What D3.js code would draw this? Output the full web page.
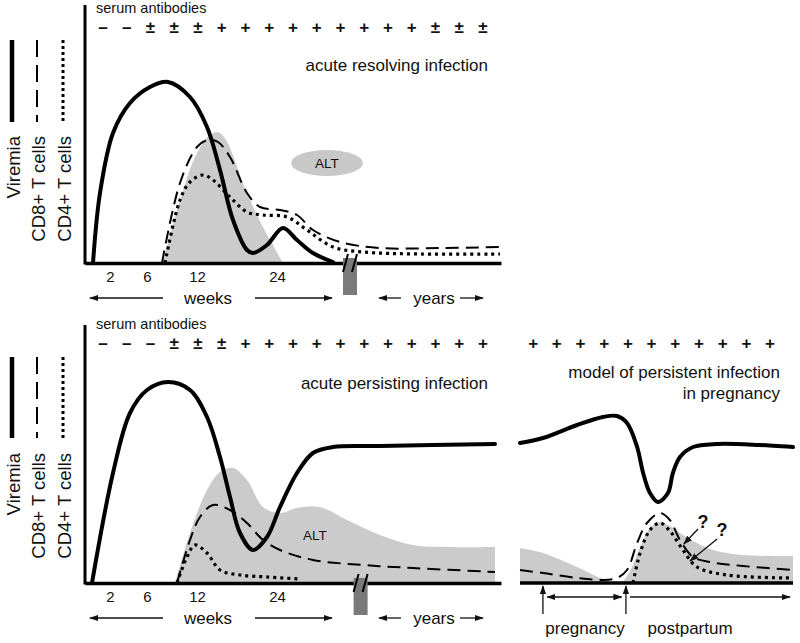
<!DOCTYPE html>
<html><head><meta charset="utf-8">
<script src="https://cdn.jsdelivr.net/npm/d3@7"></script>
<style>
body{margin:0;background:#fff}
text{font-family:"Liberation Sans",Arial,Helvetica,sans-serif;fill:#111}
</style>
</head><body>
<svg id="c" width="800" height="643"></svg>
<script>
// ---------------- DATA ----------------
const seriesNames = ["Viremia", "CD8+ T cells", "CD4+ T cells"];
const signsResolving = ["–","–","±","±","±","+","+","+","+","+","+","+","+","+","±","±","±"];
const signsPersisting = ["–","–","–","±","±","±","+","+","+","+","+","+","+","+","+","+","+"];
const signsPregnancy = ["+","+","+","+","+","+","+","+","+","+","+"];
const weekTicks = [6.25, 15.5, 28, 48];
const weekLabels = ["2", "6", "12", "24"];

// acute resolving infection (x: time units, y: relative level 0-100)
const viremiaResolving = [[2,0],[3.75,28],[7,52],[11.25,64],[16.25,70.4],[20.75,72.4],[26.25,66.4],[30.5,54.4],[33.75,37.2],[37,17.2],[40.5,5.2],[42,4],[45.5,7.2],[49.5,14],[53,9.2],[57,4],[62,0.4]];
const cd8Resolving = [[19.25,0],[23.75,32],[28,46.4],[30.75,49.2],[33.25,48.4],[36.25,42.4],[40.5,28],[43.75,22.4],[48.75,21.2],[53,19.2],[57,13.2],[63.75,8.4],[73.75,6],[88.75,6],[103.75,6.4]];
const cd4Resolving = [[20,0],[23.75,25.2],[26.25,32.4],[29.5,35.2],[32,33.2],[36.25,26.4],[40.5,20.4],[44.5,19.2],[50.5,18.4],[55.5,13.2],[62,6.4],[69.5,4.4],[83.75,3.6],[103.75,3.6]];
const altResolving = [[19.5,0],[23.75,25.2],[28,44],[31.25,51.2],[33.25,52.4],[35.25,49.2],[40.5,28],[44.5,14.4],[49.5,0]];

// acute persisting infection
const viremiaPersisting = [[1.75,0],[7,44],[11.25,68],[15.5,77.2],[20.75,80.4],[26.25,77.2],[30.5,66.4],[33.75,50.4],[36.25,34.4],[38.75,20],[42,13.2],[45.5,18.4],[48.75,30.4],[53,44],[57,52],[62,54.4],[73.75,54.8],[102.5,55.6]];
const cd8Persisting = [[23,0],[26.25,17.2],[28.75,26.4],[32,31.2],[36.25,29.2],[40.5,24],[44.5,17.2],[48.75,13.2],[57,9.2],[69.5,7.2],[82,6],[102.5,4.4]];
const cd4Persisting = [[23,0],[25.5,10.4],[27.5,15.2],[30.5,12],[33.75,5.2],[38.75,3.2],[45.5,2.4],[53.75,1.6]];
const altPersisting = [[22.5,0],[26.25,20],[30.5,37.2],[33.75,44.4],[37,46],[40.5,41.2],[44.5,30.4],[48.75,28],[53,30],[58.75,30.4],[65.5,25.2],[73.75,19.2],[82,15.2],[91.25,14.4],[102.5,14.4]];

// model of persistent infection in pregnancy
const viremiaPregnancy = [[0,56],[8.4,58],[20.9,63.2],[30.4,66.4],[35.5,66.8],[39.2,64],[42.9,54.4],[45.1,44],[47.6,36],[50.5,32.4],[54.2,36],[56,44],[58.6,50.4],[63.4,54.4],[72.2,55.6],[87.9,55.2],[100,54.4]];
const cd8Pregnancy = [[0,5.2],[8.4,4],[20.9,2],[30.4,1.2],[35.5,2],[39.2,5.2],[42.9,16],[46.5,24],[51.3,28],[54.9,25.2],[58.6,17.2],[63.4,10.4],[69.6,8.4],[81.7,6.8],[100,5.2]];
const cd4Pregnancy = [[41.4,0],[44,12],[47.6,21.2],[51.3,24],[55.2,20.4],[59.7,13.2],[64.8,6.4],[75.8,3.2],[100,2]];
const altPregnancy = [[0,14],[8.4,12],[20.9,6.4],[30.4,1.6],[36.6,0],[40.3,4.8],[44,14.4],[47.6,22],[51.3,24.4],[54.9,22.8],[58.6,20],[64.1,16.4],[70.7,13.2],[81.7,11.2],[100,10.8]];

// ---------------- LAYOUT ----------------
const svg = d3.select("#c");
const FONT = '"Liberation Sans",Arial,Helvetica,sans-serif';
const defs = svg.append("defs");
defs.append("marker").attr("id","ah").attr("viewBox","0 0 10 10").attr("refX",9).attr("refY",5)
  .attr("markerWidth",7).attr("markerHeight",7).attr("orient","auto-start-reverse")
  .append("path").attr("d","M0,1.5 L10,5 L0,8.5 Z").attr("fill","#111");

const panels = [
  {base:263, top:5, x0:85, x1:501, sub:"serum antibodies", subY:13, signY:33, signs:signsResolving,
   title:"acute resolving infection", titleY:71, brk:66.25,
   alt:altResolving, cd8:cd8Resolving, cd4:cd4Resolving, vir:viremiaResolving,
   altEllipse:[60.5,40], legendTop:40, legendBot:122, legendText:136},
  {base:583, top:325, x0:85, x1:501, sub:"serum antibodies", subY:329, signY:349, signs:signsPersisting,
   title:"acute persisting infection", titleY:389, brk:68.9,
   alt:altPersisting, cd8:cd8Persisting, cd4:cd4Persisting, vir:viremiaPersisting,
   altLabel:[57.5,19.2], legendTop:357, legendBot:438, legendText:453}
];

const styles = {
  vir:{w:4, dash:null, cap:"round"},
  cd8:{w:2, dash:"13,7", cap:"butt"},
  cd4:{w:3.2, dash:"3,4", cap:"butt"}
};

function drawCurves(g, x, y, p) {
  const area = d3.area().x(d=>x(d[0])).y0(y(0)).y1(d=>y(d[1])).curve(d3.curveCatmullRom.alpha(0.5));
  const line = d3.line().x(d=>x(d[0])).y(d=>y(d[1])).curve(d3.curveCatmullRom.alpha(0.5));
  g.append("path").attr("d", area(p.alt)).attr("fill","#cbcbcb");
  ["cd8","cd4","vir"].forEach(k=>{
    if(!p[k]) return;
    g.append("path").attr("d", line(p[k])).attr("fill","none").attr("stroke","#000")
      .attr("stroke-width", styles[k].w).attr("stroke-dasharray", styles[k].dash)
      .attr("stroke-linecap", styles[k].cap);
  });
}

function drawSigns(xs, yPos, signs, r0, r1) {
  const sp = d3.scalePoint().domain(d3.range(signs.length)).range([r0, r1]);
  svg.append("g").selectAll("text").data(signs).join("text")
    .attr("x",(d,i)=>sp(i)).attr("y",yPos).attr("text-anchor","middle")
    .style("font-size","17px").style("font-weight","bold").text(d=>d);
}

function drawLegend(p) {
  const xs = [12, 37, 63];
  ["vir","cd8","cd4"].forEach((k,i)=>{
    svg.append("line").attr("x1",xs[i]).attr("x2",xs[i]).attr("y1",p.legendTop).attr("y2",p.legendBot)
      .attr("stroke","#000").attr("stroke-width", k==="vir"?4.5:(k==="cd8"?2:3))
      .attr("stroke-dasharray", k==="vir"?null:(k==="cd8"?"17,8":"3,3"));
    svg.append("text").attr("transform",`translate(${xs[i]+8},${p.legendText}) rotate(-90)`)
      .attr("text-anchor","end").style("font-size","18.5px").text(seriesNames[i]);
  });
}

function drawTimeAxis(x, base, brk) {
  const axis = d3.axisBottom(x).tickValues(weekTicks).tickFormat((d,i)=>weekLabels[i]).tickSize(0).tickPadding(8);
  const ga = svg.append("g").attr("transform",`translate(0,${base})`).call(axis);
  ga.select(".domain").attr("stroke","#000").attr("stroke-width",3.5);
  ga.selectAll("text").style("font-size","15px").style("font-family",FONT).attr("fill","#111");
  // break box
  const bx = x(brk);
  svg.append("rect").attr("x",bx-7).attr("y",base-5).attr("width",14).attr("height",37).attr("fill","#7a7a7a");
  [-4.5, 4.5].forEach(o=>{
    svg.append("line").attr("x1",bx+o-2.5).attr("y1",base+9).attr("x2",bx+o+2.5).attr("y2",base-9)
      .attr("stroke","#000").attr("stroke-width",2);
  });
  // weeks / years labels with arrows
  const ly = base + 35;
  svg.append("text").attr("x",x(30.75)).attr("y",ly+6).attr("text-anchor","middle").style("font-size","17px").text("weeks");
  arrow(x(19.5), ly, x(1.25), ly);
  arrow(x(42.5), ly, x(61.75), ly);
  svg.append("text").attr("x",x(87.25)).attr("y",ly+6).attr("text-anchor","middle").style("font-size","17px").text("years");
  arrow(x(79), ly, x(73.5), ly);
  arrow(x(93.75), ly, x(99.5), ly);
}

function arrow(xa, ya, xb, yb, both) {
  const l = svg.append("line").attr("x1",xa).attr("y1",ya).attr("x2",xb).attr("y2",yb)
    .attr("stroke","#111").attr("stroke-width",1.3).attr("marker-end","url(#ah)");
  if (both) l.attr("marker-start","url(#ah)");
}

panels.forEach(p=>{
  const x = d3.scaleLinear().domain([0,104]).range([p.x0, p.x1]);
  const y = d3.scaleLinear().domain([0,100]).range([p.base, p.base-250]);
  const g = svg.append("g");
  drawCurves(g, x, y, p);
  if (p.altEllipse) {
    svg.append("ellipse").attr("cx",x(p.altEllipse[0])).attr("cy",y(p.altEllipse[1])).attr("rx",36).attr("ry",13).attr("fill","#c8c8c8");
    svg.append("text").attr("x",x(p.altEllipse[0])).attr("y",y(p.altEllipse[1])+5).attr("text-anchor","middle").style("font-size","13.5px").attr("fill","#333").text("ALT");
  }
  if (p.altLabel) {
    svg.append("text").attr("x",x(p.altLabel[0])).attr("y",y(p.altLabel[1])+5).attr("text-anchor","middle").style("font-size","13.5px").attr("fill","#333").text("ALT");
  }
  // y axis
  svg.append("line").attr("x1",p.x0).attr("x2",p.x0).attr("y1",p.top).attr("y2",p.base+1.5).attr("stroke","#000").attr("stroke-width",3);
  drawTimeAxis(x, p.base, p.brk);
  svg.append("text").attr("x",p.x0+11).attr("y",p.subY).style("font-size","14.5px").text(p.sub);
  drawSigns(x, p.signY, p.signs, x(4.5), x(99.5));
  svg.append("text").attr("x",488).attr("y",p.titleY).attr("text-anchor","end").style("font-size","17px").text(p.title);
  drawLegend(p);
});

// ---------------- pregnancy panel ----------------
(function(){
  const base = 583;
  const xr = d3.scaleLinear().domain([0,100]).range([520, 793]);
  const y = d3.scaleLinear().domain([0,100]).range([base, base-250]);
  const g = svg.append("g");
  drawCurves(g, xr, y, {alt:altPregnancy, cd8:cd8Pregnancy, cd4:cd4Pregnancy, vir:viremiaPregnancy});
  svg.append("line").attr("x1",xr(0)).attr("x2",xr(100)).attr("y1",base).attr("y2",base).attr("stroke","#000").attr("stroke-width",3.5);
  drawSigns(xr, 349, signsPregnancy, xr(4.8), xr(91.6));
  svg.append("text").attr("x",780).attr("y",378).attr("text-anchor","end").style("font-size","17px").text("model of persistent infection");
  svg.append("text").attr("x",780).attr("y",399).attr("text-anchor","end").style("font-size","17px").text("in pregnancy");
  // question marks
  [[67,24.4],[74,21.2]].forEach(q=>{
    svg.append("text").attr("x",xr(q[0])).attr("y",y(q[1])+6).attr("text-anchor","middle").style("font-size","18px").style("font-weight","bold").text("?");
  });
  arrow(xr(65.2), y(21.6), xr(60), y(15.6));
  arrow(xr(72.2), y(17.6), xr(62.3), y(8.8));
  // pregnancy / postpartum arrows
  arrow(xr(8.4), base+31, xr(8.4), base+3);
  arrow(xr(38.8), base+31, xr(38.8), base+3);
  arrow(xr(10), base+14, xr(37.2), base+14, true);
  arrow(xr(40.3), base+14, xr(98.9), base+14);
  svg.append("text").attr("x",xr(23.8)).attr("y",base+51).attr("text-anchor","middle").style("font-size","17px").text("pregnancy");
  svg.append("text").attr("x",xr(62.3)).attr("y",base+51).attr("text-anchor","middle").style("font-size","17px").text("postpartum");
})();
</script>
</body></html>
